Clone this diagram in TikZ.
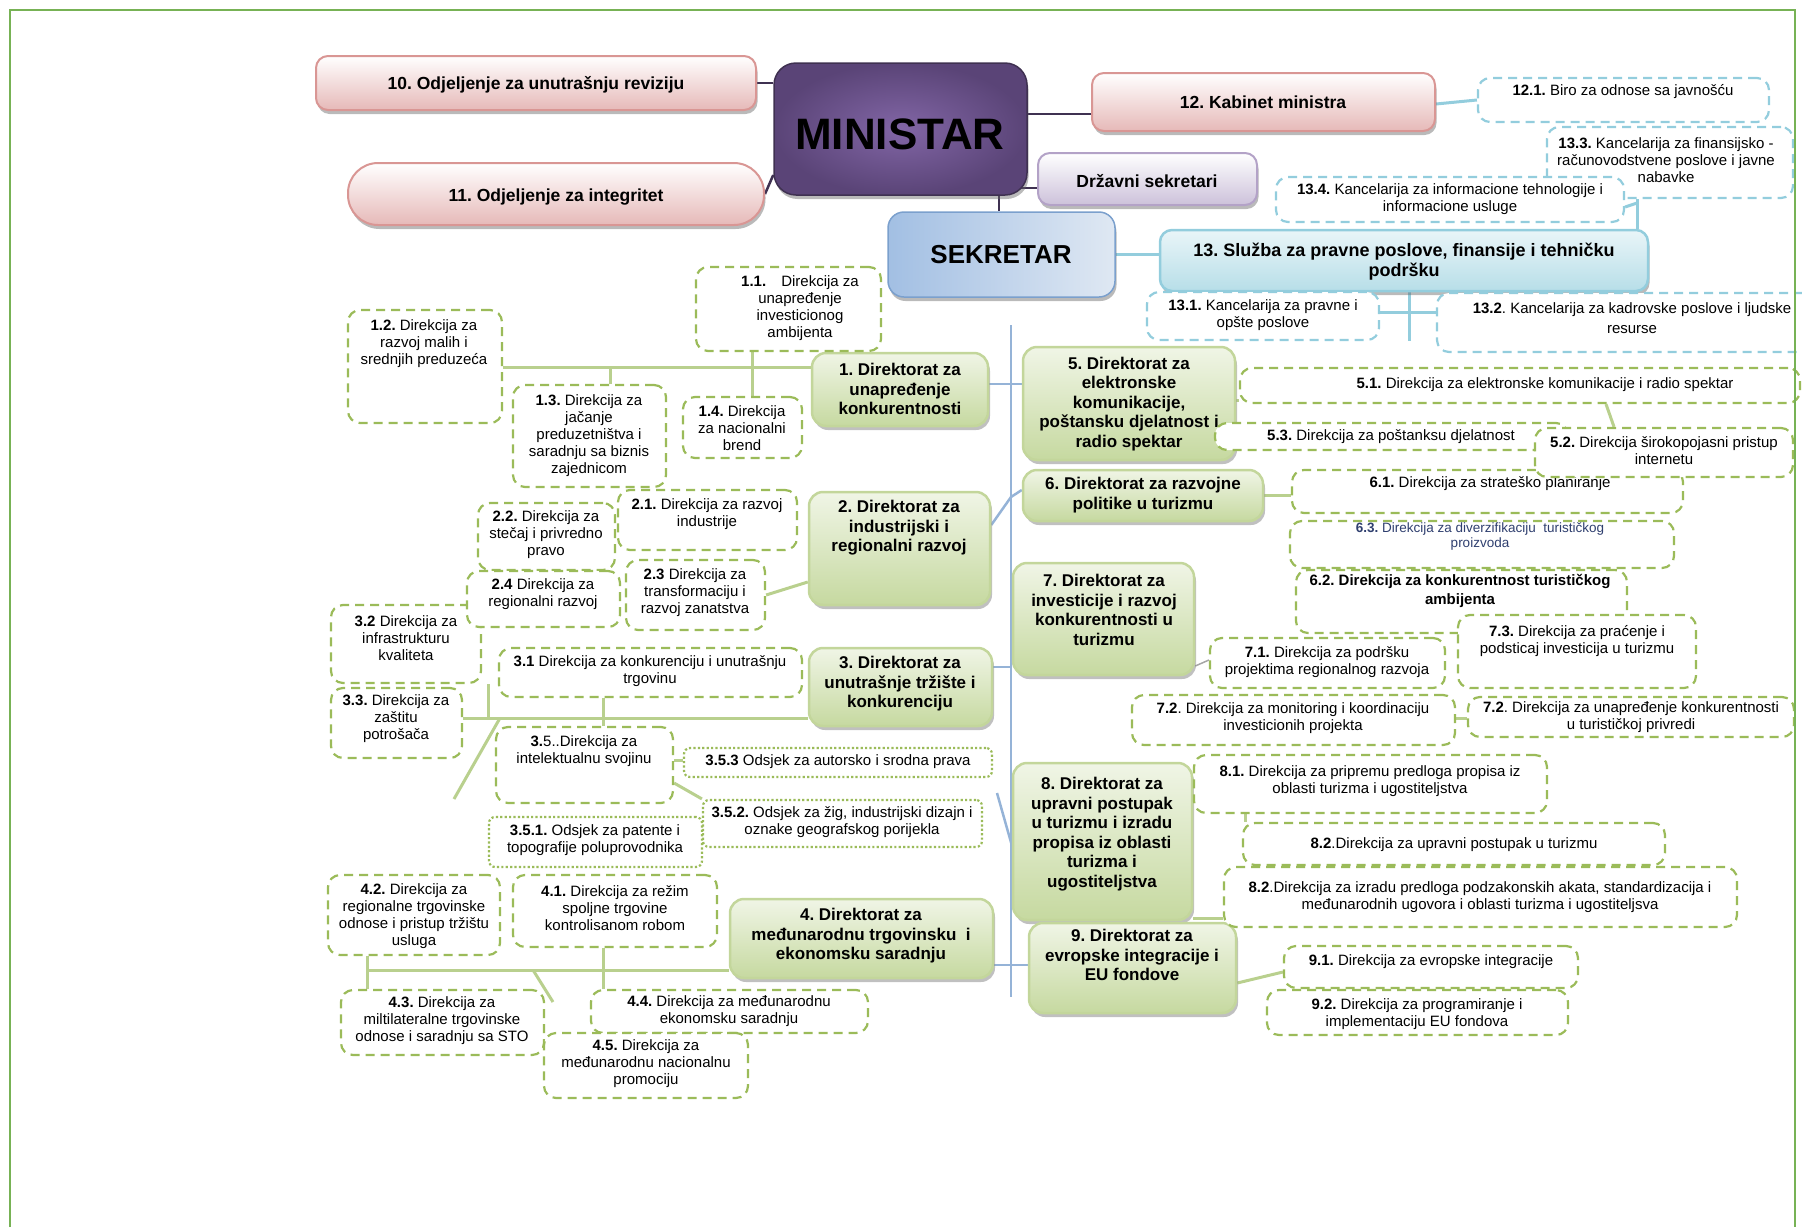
\documentclass[tikz,border=0pt]{standalone}
\usepackage{fontspec}
\setmainfont{Liberation Sans}
\usetikzlibrary{shadows}
\frenchspacing
\definecolor{pinkB}{HTML}{D99694}
\definecolor{pinkF}{HTML}{E6B9B8}
\definecolor{purM}{HTML}{5A4477}
\definecolor{purL}{HTML}{8266A6}
\definecolor{purLine}{HTML}{3F3151}
\definecolor{lavF}{HTML}{CCC1DA}
\definecolor{lavB}{HTML}{B3A2C7}
\definecolor{sekB}{HTML}{A2BFE3}
\definecolor{sekL}{HTML}{DFE8F3}
\definecolor{sekLine}{HTML}{7BA0CD}
\definecolor{cyB}{HTML}{93CDDD}
\definecolor{cyF}{HTML}{B7DEE8}
\definecolor{gF1}{HTML}{F0F5E6}
\definecolor{gF2}{HTML}{C6D9A0}
\definecolor{gB}{HTML}{C3D69B}
\definecolor{gD}{HTML}{9BBB59}
\definecolor{gC}{HTML}{B9D08E}
\definecolor{spineC}{HTML}{95B3D7}
\definecolor{frameC}{HTML}{77B255}
\definecolor{t63}{HTML}{2F3F6F}
\pgfdeclarelayer{bg}
\pgfsetlayers{bg,main}
\newcommand\bx[6]{\node[#1,minimum width=#5pt-#3pt,minimum height=#6pt-#4pt,inner sep=0pt] (#2) at ({(#3+#5)/2},{(#4+#6)/2}) {};}
\begin{document}
\begin{tikzpicture}[x=1pt,y=-1pt,
  shd/.style={drop shadow={shadow xshift=1.5pt,shadow yshift=-4pt,opacity=.45,fill=black!60}},
  pinkbox/.style={draw=pinkB,line width=2pt,top color=white,bottom color=pinkF,rounded corners=12pt,shd},
  minbox/.style={draw=purLine,line width=1.5pt,inner color=purL,outer color=purM,rounded corners=22pt,shd},
  drzbox/.style={draw=lavB,line width=2pt,top color=white,bottom color=lavF,rounded corners=12pt,shd},
  sekbox/.style={draw=sekLine,line width=1.5pt,left color=sekB,right color=sekL,rounded corners=16pt,shd},
  slbox/.style={draw=cyB,line width=2.5pt,top color=white!70!cyF,bottom color=cyF,rounded corners=12pt,shd},
  dirbox/.style={draw=gB,line width=2.5pt,top color=gF1,bottom color=gF2,rounded corners=14pt,drop shadow={shadow xshift=2pt,shadow yshift=-4pt,opacity=.55,fill=black!45}},
  gdash/.style={draw=gD,line width=2.2pt,dash pattern=on 9pt off 6pt,rounded corners=12pt,fill=white},
  cdash/.style={draw=cyB,line width=2.2pt,dash pattern=on 9pt off 6pt,rounded corners=12pt,fill=white},
  gdot/.style={draw=gD,line width=2.2pt,dash pattern=on 2.2pt off 2.2pt,rounded corners=6pt,fill=white},
  st/.style={font=\fontsize{15}{17}\selectfont,align=center,inner sep=0pt,text=black},
  bt/.style={font=\fontsize{17.5}{20}\selectfont\bfseries,align=center,inner sep=0pt},
  dt/.style={font=\fontsize{17}{19.5}\selectfont\bfseries,align=center,inner sep=0pt},
  pc/.style={draw=purLine,line width=2.5pt},
  cc/.style={draw=cyB,line width=3pt},
  gc/.style={draw=gC,line width=3pt},
  bc/.style={draw=spineC,line width=2.5pt}]
\useasboundingbox (0,0) rectangle (1802,1227);

% ---------- top level ----------
\bx{pinkbox}{n10}{316}{56}{756}{110}
\node[bt] (t10) at (536,85) {10. Odjeljenje za unutrašnju reviziju};
\bx{pinkbox,rounded corners=30pt}{n11}{348}{163}{764}{225}
\node[bt] (t11) at (556,197) {11. Odjeljenje za integritet};
\bx{minbox}{min}{774}{63}{1027}{195}
\node[font=\fontsize{44}{48}\selectfont\bfseries,inner sep=0pt] (tmin) at (900,134) {MINISTAR};
\bx{pinkbox}{n12}{1092}{73}{1435}{131}
\node[bt] (t12) at (1263,102) {12. Kabinet ministra};
\bx{drzbox}{drz}{1038}{153}{1257}{205}
\node[bt] (tdrz) at (1147,181) {Državni sekretari};
\bx{sekbox}{sek}{888}{212}{1115}{297}
\node[font=\fontsize{26}{30}\selectfont\bfseries,inner sep=0pt] (tsek) at (1001,255) {SEKRETAR};
\bx{slbox}{s13}{1160}{230}{1648}{291}
\node[font=\fontsize{18}{20}\selectfont\bfseries,align=center,inner sep=0pt] (ts13) at (1404,262) {13. Služba za pravne poslove, finansije i tehničku\\podršku};

\bx{cdash}{b12-1}{1478}{78}{1769}{122}
\node[st] (t12-1) at (1623,92) {\textbf{12.1.} Biro za odnose sa javnošću};
\bx{cdash}{b13-3}{1547}{127}{1793}{198}
\node[st] (t13-3) at (1666,160) {\textbf{13.3.} Kancelarija za finansijsko -\\računovodstvene poslove i javne\\nabavke};
\bx{cdash}{b13-4}{1276}{177}{1624}{222}
\node[st] (t13-4) at (1450,199) {\textbf{13.4.} Kancelarija za informacione tehnologije i\\informacione usluge};
\bx{cdash}{b13-1}{1147}{292}{1379}{340}
\node[st] (t13-1) at (1263,315) {\textbf{13.1.} Kancelarija za pravne i\\opšte poslove};
\bx{cdash}{b13-2}{1437}{293}{1830}{352}
\node[st,font=\fontsize{15}{19.5}\selectfont] (t13-2) at (1632,318) {\textbf{13.2}. Kancelarija za kadrovske poslove i ljudske\\resurse};

% ---------- directorates ----------
\bx{dirbox}{d1}{812}{353}{988}{426}
\node[dt] (td1) at (900,389) {1. Direktorat za\\unapređenje\\konkurentnosti};
\bx{dirbox}{d2}{809}{492}{990}{605}
\node[dt] (td2) at (899,528) {2. Direktorat za\\industrijski i\\regionalni razvoj};
\bx{dirbox}{d3}{809}{648}{992}{726}
\node[dt] (td3) at (900,684) {3. Direktorat za\\unutrašnje tržište i\\konkurenciju};
\bx{dirbox}{d4}{730}{899}{993}{978}
\node[dt] (td4) at (861,936) {4. Direktorat za\\međunarodnu trgovinsku\ \ i\\ekonomsku saradnju};
\bx{dirbox}{d5}{1023}{347}{1235}{460}
\node[dt] (td5) at (1129,404) {5. Direktorat za\\elektronske\\komunikacije,\\poštansku djelatnost i\\radio spektar};
\bx{dirbox}{d6}{1023}{470}{1263}{521}
\node[dt] (td6) at (1143,495) {6. Direktorat za razvojne\\politike u turizmu};
\bx{dirbox}{d7}{1013}{563}{1194}{675}
\node[dt] (td7) at (1104,610) {7. Direktorat za\\investicije i razvoj\\konkurentnosti u\\turizmu};
\bx{dirbox}{d8}{1013}{763}{1192}{920}
\node[dt] (td8) at (1102,834) {8. Direktorat za\\upravni postupak\\u turizmu i izradu\\propisa iz oblasti\\turizma i\\ugostiteljstva};
\bx{dirbox}{d9}{1029}{923}{1236}{1013}
\node[dt] (td9) at (1132,955) {9. Direktorat za\\evropske integracije i\\EU fondove};

% ---------- sub units ----------
\bx{gdash}{b1-1}{696}{267}{881}{351}
\node[st] (t1-1) at (800,308) {\textbf{1.1.}\quad Direkcija za\\unapređenje\\investicionog\\ambijenta};
\bx{gdash}{b1-2}{348}{310}{502}{423}
\node[st] (t1-2) at (424,344) {\textbf{1.2.} Direkcija za\\razvoj malih i\\srednjih preduzeća};
\bx{gdash}{b1-3}{513}{385}{666}{487}
\node[st] (t1-3) at (589,436) {\textbf{1.3.} Direkcija za\\jačanje\\preduzetništva i\\saradnju sa biznis\\zajednicom};
\bx{gdash}{b1-4}{683}{397}{802}{458}
\node[st] (t1-4) at (742,428) {\textbf{1.4.} Direkcija\\za nacionalni\\brend};

\bx{gdash}{b2-1}{618}{490}{797}{550}
\node[st] (t2-1) at (707,514) {\textbf{2.1.} Direkcija za razvoj\\industrije};
\bx{gdash}{b2-2}{478}{503}{615}{570}
\node[st] (t2-2) at (546,535) {\textbf{2.2.} Direkcija za\\stečaj i privredno\\pravo};
\bx{gdash}{b3-2}{331}{605}{481}{683}
\node[st] (t3-2) at (406,638) {\textbf{3.2} Direkcija za\\infrastrukturu\\kvaliteta};
\bx{gdash}{b2-4}{467}{571}{620}{627}
\node[st] (t2-4) at (543,594) {\textbf{2.4} Direkcija za\\regionalni razvoj};
\bx{gdash}{b2-3}{626}{560}{765}{630}
\node[st] (t2-3) at (695,593) {\textbf{2.3} Direkcija za\\transformaciju i\\razvoj zanatstva};

\bx{gdash}{b3-3}{331}{688}{462}{758}
\node[st] (t3-3) at (396,719) {\textbf{3.3.} Direkcija za\\zaštitu\\potrošača};
\bx{gdash}{b3-1}{499}{648}{802}{697}
\node[st] (t3-1) at (650,671) {\textbf{3.1} Direkcija za konkurenciju i unutrašnju\\trgovinu};
\bx{gdash}{b3-5}{496}{727}{673}{803}
\node[st] (t3-5) at (584,751) {\textbf{3.}5..Direkcija za\\intelektualnu svojinu};
\bx{gdot}{b3-5-3}{684}{748}{992}{777}
\node[st] (t3-5-3) at (838,762) {\textbf{3.5.3} Odsjek za autorsko i srodna prava};
\bx{gdot}{b3-5-2}{703}{800}{982}{847}
\node[st] (t3-5-2) at (842,822) {\textbf{3.5.2.} Odsjek za žig, industrijski dizajn i\\oznake geografskog porijekla};
\bx{gdot}{b3-5-1}{489}{817}{702}{867}
\node[st] (t3-5-1) at (595,840) {\textbf{3.5.1.} Odsjek za patente i\\topografije poluprovodnika};

\bx{gdash}{b4-2}{328}{875}{500}{955}
\node[st] (t4-2) at (414,916) {\textbf{4.2.} Direkcija za\\regionalne trgovinske\\odnose i pristup tržištu\\usluga};
\bx{gdash}{b4-1}{513}{875}{717}{947}
\node[st] (t4-1) at (615,908) {\textbf{4.1.} Direkcija za režim\\spoljne trgovine\\kontrolisanom robom};
\bx{gdash}{b4-3}{341}{990}{544}{1055}
\node[st] (t4-3) at (442,1021) {\textbf{4.3.} Direkcija za\\miltilateralne trgovinske\\odnose i saradnju sa STO};
\bx{gdash}{b4-4}{591}{990}{868}{1033}
\node[st] (t4-4) at (729,1011) {\textbf{4.4.} Direkcija za međunarodnu\\ekonomsku saradnju};
\bx{gdash}{b4-5}{544}{1033}{748}{1098}
\node[st] (t4-5) at (646,1064) {\textbf{4.5.} Direkcija za\\međunarodnu nacionalnu\\promociju};

\bx{gdash}{b5-1}{1240}{368}{1800}{403}
\node[st] (t5-1) at (1545,385) {\textbf{5.1.} Direkcija za elektronske komunikacije i radio spektar};
\bx{gdash}{b5-3}{1215}{423}{1568}{450}
\node[st] (t5-3) at (1391,437) {\textbf{5.3.} Direkcija za poštanksu djelatnost};
\bx{gdash}{b6-1}{1292}{470}{1683}{513}
\node[st] (t6-1) at (1490,484) {\textbf{6.1.} Direkcija za strateško planiranje};
\bx{gdash}{b5-2}{1535}{428}{1793}{477}
\node[st] (t5-2) at (1664,451) {\textbf{5.2.} Direkcija širokopojasni pristup\\internetu};
\bx{gdash}{b6-3}{1290}{521}{1674}{568}
\node[st,font=\fontsize{13.5}{15}\selectfont,text=t63] (t6-3) at (1480,536) {\textbf{6.3.} Direkcija za diverzifikaciju\ \ turističkog\\proizvoda};
\bx{gdash}{b6-2}{1296}{570}{1627}{633}
\node[st,font=\fontsize{15}{19}\selectfont\bfseries] (t6-2) at (1460,591) {6.2. Direkcija za konkurentnost turističkog\\ambijenta};

\bx{gdash}{b7-1}{1210}{638}{1445}{688}
\node[st] (t7-1) at (1327,662) {\textbf{7.1.} Direkcija za podršku\\projektima regionalnog razvoja};
\bx{gdash}{b7-3}{1458}{615}{1696}{688}
\node[st] (t7-3) at (1577,641) {\textbf{7.3.} Direkcija za praćenje i\\podsticaj investicija u turizmu};
\bx{gdash}{b7-2a}{1132}{695}{1455}{745}
\node[st] (t7-2a) at (1293,718) {\textbf{7.2}. Direkcija za monitoring i koordinaciju\\investicionih projekta};
\bx{gdash}{b7-2b}{1468}{697}{1794}{737}
\node[st] (t7-2b) at (1631,717) {\textbf{7.2}. Direkcija za unapređenje konkurentnosti\\u turističkoj privredi};

\bx{gdash}{b8-1}{1194}{755}{1547}{813}
\node[st] (t8-1) at (1370,781) {\textbf{8.1.} Direkcija za pripremu predloga propisa iz\\oblasti turizma i ugostiteljstva};
\bx{gdash}{b8-2a}{1243}{823}{1665}{865}
\node[st] (t8-2a) at (1454,845) {\textbf{8.2}.Direkcija za upravni postupak u turizmu};
\bx{gdash}{b8-2b}{1224}{867}{1737}{927}
\node[st] (t8-2b) at (1480,897) {\textbf{8.2}.Direkcija za izradu predloga podzakonskih akata, standardizacija i\\međunarodnih ugovora i oblasti turizma i ugostiteljsva};

\bx{gdash}{b9-1}{1284}{946}{1578}{988}
\node[st] (t9-1) at (1431,962) {\textbf{9.1.} Direkcija za evropske integracije};
\bx{gdash}{b9-2}{1267}{990}{1568}{1035}
\node[st] (t9-2) at (1417,1014) {\textbf{9.2.} Direkcija za programiranje i\\implementaciju EU fondova};

% ---------- connectors (behind) ----------
\begin{pgfonlayer}{bg}
\coordinate (sp1) at (1011,325);
\coordinate (sp2) at (1011,997);
\coordinate (sp6) at (1011,497);
\coordinate (sp8) at (997,793);
\coordinate (c133) at (1637,203);
\coordinate (c3x) at (500,718);
\coordinate (c3y) at (454,799);
\coordinate (c4x) at (533,970);
\coordinate (c4y) at (553,1002);
\coordinate (c4z) at (367,970);
\coordinate (c1z) at (610,367);
\coordinate (c3z) at (488,718);

\draw[pc] (n10.east |- 0,83) -- (min.west |- 0,83);
\draw[pc] (n11.east) -- (min.west |- 0,175);
\draw[pc] (min.east |- 0,114) -- (n12.west |- 0,114);
\draw[pc] (min.center |- 0,188) -- (drz.west |- 0,188);
\draw[pc] (min.south -| 999,0) -- (sek.north -| 999,0);

\draw[cc] (sek.east |- 0,254) -- (s13.west |- 0,254);
\draw[cc] (n12.east |- 0,104) -- (b12-1.west |- 0,100);
\draw[cc] (s13.north -| c133) -- (b13-3.south -| c133);
\draw[cc] (b13-4.east |- 0,207) -- (c133);
\draw[cc] (s13.south -| 1409,0) -- (b13-1.south -| 1409,0);
\draw[cc] (b13-1.east |- 0,312) -- (b13-2.west |- 0,312);

\draw[bc] (sp1) -- (sp2);
\draw[bc] (d1.east |- 0,384) -- (d5.west |- 0,384);
\draw[bc] (d2.east |- 0,525) -- (sp6) -- (d6.west |- 0,490);
\draw[bc] (d3.east |- 0,667) -- (d7.west |- 0,667);
\draw[bc] (d4.east |- 0,965) -- (d9.west |- 0,965);
\draw[bc] (sp8) -- (d8.west |- 0,845);

\draw[gc] (b1-2.east |- 0,367) -- (d1.west |- 0,367);
\draw[gc] (b1-1.south -| 752,0) -- (b1-4.north -| 752,0);
\draw[gc] (c1z) -- (b1-3.north -| c1z);
\draw[gc] (d2.west |- 0,582) -- (b2-3.east |- 0,595);
\draw[gc] (b3-3.east |- 0,718) -- (d3.west |- 0,718);
\draw[gc] (b3-2.south -| c3z) -- (c3z);
\draw[gc] (b3-1.south -| 603,0) -- (b3-5.north -| 603,0);
\draw[gc] (c3x) -- (c3y);
\draw[gc] (b3-5.east |- 0,760) -- (b3-5-3.west |- 0,760);
\draw[gc] (b3-5.east |- 0,783) -- (b3-5-2.north west);
\draw[gc] (c4z) -- (d4.west |- 0,970);
\draw[gc] (b4-2.south -| c4z) -- (b4-3.north -| c4z);
\draw[gc] (b4-1.south -| 603,0) -- (b4-4.north -| 603,0);
\draw[gc] (c4x) -- (c4y);
\draw[gc] (d5.east |- 0,400) -- (b5-1.west |- 0,400);
\draw[gc] (b5-1.south -| 1606,0) -- (b5-2.north -| 1614,0);
\draw[gc] (d6.east |- 0,495) -- (b6-1.west |- 0,495);
\draw[draw=gray!70,line width=1.5pt] (d7.east |- 0,666) -- (b7-1.west |- 0,660);
\draw[gc] (b7-2a.east |- 0,718) -- (b7-2b.west |- 0,718);
\draw[gc] (d8.east |- 0,918) -- (b8-2b.west |- 0,918);
\draw[gc] (b8-1.south -| 1245,0) -- (b8-2a.north -| 1245,0);
\draw[gc] (d9.east |- 0,983) -- (b9-1.west |- 0,972);
\end{pgfonlayer}

% ---------- frame ----------
\draw[frameC,line width=2pt] (10,1227) -- (10,10) -- (1795,10) -- (1795,1227);
\end{tikzpicture}
\end{document}
